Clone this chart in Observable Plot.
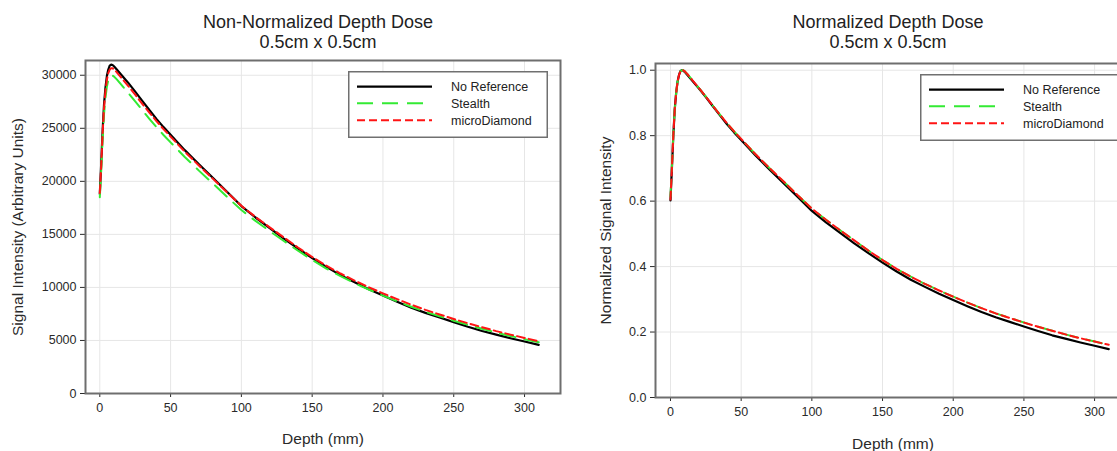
<!DOCTYPE html>
<html>
<head>
<meta charset="utf-8">
<script src="https://cdn.jsdelivr.net/npm/d3@7"></script>
<script src="https://cdn.jsdelivr.net/npm/@observablehq/plot@0.6"></script>
<style>
  html, body { margin: 0; padding: 0; background: #fff; overflow: hidden; width: 1117px; height: 451px; }
  body { position: relative; font-family: "Liberation Sans", Arial, sans-serif; color: #222; }
  .chart { position: absolute; top: 0; }
  .title { font-size: 18px; line-height: 20px; text-align: center; padding-top: 12px; height: 40px; color: #222; }
  .chart svg g[aria-label$="axis label"] text { font-size: 15.5px; }
  .legend { position: absolute; }
</style>
</head>
<body>
<div id="left" class="chart" style="left:0px;width:562px;"></div>
<div id="right" class="chart" style="left:562px;width:570px;"></div>
<script>
// ---------- data ----------
const depth = [0,1,2,3,4,5,6,7,8,9,10,12,15,20,25,30,35,40,45,50,60,70,80,90,100,110,120,130,140,150,160,170,180,190,200,210,220,230,240,250,260,270,280,290,300,310];

// Non-normalized signal (arbitrary units)
const noRefRaw = [18800,21700,24800,27280,28830,29920,30540,30910,31000,30970,30850,30540,30070,29300,28460,27590,26720,25890,25110,24400,22940,21610,20310,19000,17670,16590,15590,14600,13670,12770,11940,11160,10480,9830,9240,8650,8090,7600,7160,6730,6290,5890,5550,5210,4900,4590];
const stealthRaw = [18500,21000,23980,26370,27870,28920,29520,29850,29970,29970,29880,29610,29130,28350,27540,26700,25890,25110,24370,23670,22300,21010,19780,18520,17290,16270,15310,14380,13460,12590,11780,11060,10400,9800,9230,8690,8180,7700,7280,6860,6470,6110,5750,5420,5120,4830];
const microRaw = [18900,21460,24520,26970,28500,29580,30190,30530,30650,30650,30560,30280,29790,29000,28170,27310,26480,25680,24920,24210,22800,21490,20230,18940,17690,16640,15660,14710,13760,12870,12050,11310,10640,10020,9440,8890,8370,7880,7450,7020,6620,6250,5880,5550,5240,4930];

// Normalized signal
const noRefNorm = [0.602,0.70,0.80,0.88,0.93,0.965,0.985,0.997,1.0,0.999,0.995,0.985,0.970,0.945,0.918,0.890,0.862,0.835,0.810,0.787,0.740,0.697,0.655,0.613,0.570,0.535,0.503,0.471,0.441,0.412,0.385,0.360,0.338,0.317,0.298,0.279,0.261,0.245,0.231,0.217,0.203,0.190,0.179,0.168,0.158,0.148];
const stealthNorm = [0.615,0.70,0.80,0.88,0.93,0.965,0.985,0.996,1.0,1.0,0.997,0.988,0.972,0.946,0.919,0.891,0.864,0.838,0.813,0.790,0.744,0.701,0.660,0.618,0.577,0.543,0.511,0.480,0.449,0.420,0.393,0.369,0.347,0.327,0.308,0.290,0.273,0.257,0.243,0.229,0.216,0.204,0.192,0.181,0.171,0.161];
const microNorm = [0.605,0.70,0.80,0.88,0.93,0.965,0.985,0.996,1.0,1.0,0.997,0.988,0.972,0.946,0.919,0.891,0.864,0.838,0.813,0.790,0.744,0.701,0.660,0.618,0.577,0.543,0.511,0.480,0.449,0.420,0.393,0.369,0.347,0.327,0.308,0.290,0.273,0.257,0.243,0.229,0.216,0.204,0.192,0.181,0.171,0.161];

const seriesNames = ["No Reference", "Stealth", "microDiamond"];
const seriesColors = ["#000000", "#33ea33", "#ff1414"];
const seriesDash = [null, "16,9", "8,4"];
const seriesWidth = [2.2, 2, 2];

const xTicks = [0, 50, 100, 150, 200, 250, 300];
const yTicksRaw = [0, 5000, 10000, 15000, 20000, 25000, 30000];
const yTicksNorm = [0, 0.2, 0.4, 0.6, 0.8, 1.0];

const leftTitle = ["Non-Normalized Depth Dose", "0.5cm x 0.5cm"];
const rightTitle = ["Normalized Depth Dose", "0.5cm x 0.5cm"];

// ---------- helpers ----------
function rows(values, name) {
  return depth.map((d, i) => ({depth: d, value: values[i], series: name}));
}

function buildChart(el, cfg) {
  const title = document.createElement("div");
  title.className = "title";
  title.style.paddingLeft = cfg.marginLeft + "px";
  title.style.paddingRight = (cfg.marginRight + cfg.titleShift) + "px";
  title.innerHTML = cfg.title.join("<br>");
  el.appendChild(title);

  const lineMarks = cfg.series.map((vals, i) =>
    Plot.line(rows(vals, seriesNames[i]), {
      x: "depth", y: "value",
      stroke: seriesColors[i],
      strokeWidth: seriesWidth[i],
      strokeDasharray: seriesDash[i] || undefined,
      curve: "linear"
    })
  );

  const svg = Plot.plot({
    width: cfg.width,
    height: 399,
    marginLeft: cfg.marginLeft,
    marginRight: cfg.marginRight,
    marginTop: cfg.marginTop,
    marginBottom: cfg.marginBottom,
    style: {fontFamily: "'Liberation Sans', Arial, sans-serif", fontSize: "12.5px", color: "#2a2a2a", background: "transparent", overflow: "visible"},
    x: {domain: cfg.xDomain, ticks: xTicks, tickSize: 4, tickPadding: 6, label: "Depth (mm)", labelAnchor: "center", labelOffset: cfg.xLabelOffset, labelArrow: false},
    y: {domain: cfg.yDomain, ticks: cfg.yTicks, tickSize: 5, tickPadding: 4, tickFormat: cfg.yFormat, label: cfg.yLabel, labelAnchor: "center", labelOffset: cfg.yLabelOffset, labelArrow: false},
    marks: [
      Plot.ruleX(xTicks, {stroke: "#e6e6e6", strokeWidth: 1}),
      Plot.ruleY(cfg.yTicks, {stroke: "#e6e6e6", strokeWidth: 1}),
      ...lineMarks,
      Plot.frame({stroke: "#6e6e6e", strokeWidth: 2})
    ]
  });
  el.appendChild(svg);
}

function buildLegend(left, top, width, height) {
  const ns = "http://www.w3.org/2000/svg";
  const svg = document.createElementNS(ns, "svg");
  svg.setAttribute("class", "legend");
  svg.setAttribute("width", width);
  svg.setAttribute("height", height);
  svg.style.left = left + "px";
  svg.style.top = top + "px";
  const box = document.createElementNS(ns, "rect");
  box.setAttribute("x", 0.75); box.setAttribute("y", 0.75);
  box.setAttribute("width", width - 1.5); box.setAttribute("height", height - 1.5);
  box.setAttribute("fill", "#fff"); box.setAttribute("stroke", "#707070"); box.setAttribute("stroke-width", 1.5);
  svg.appendChild(box);
  const ys = [15.7, 32.3, 49.3];
  seriesNames.forEach((name, i) => {
    const ln = document.createElementNS(ns, "line");
    ln.setAttribute("x1", 9); ln.setAttribute("x2", 84);
    ln.setAttribute("y1", ys[i]); ln.setAttribute("y2", ys[i]);
    ln.setAttribute("stroke", seriesColors[i]);
    ln.setAttribute("stroke-width", seriesWidth[i]);
    if (seriesDash[i]) ln.setAttribute("stroke-dasharray", seriesDash[i]);
    svg.appendChild(ln);
    const t = document.createElementNS(ns, "text");
    t.setAttribute("x", 103); t.setAttribute("y", ys[i]);
    t.setAttribute("dy", "0.35em");
    t.setAttribute("font-size", "12.5px");
    t.setAttribute("font-family", "'Liberation Sans', Arial, sans-serif");
    t.setAttribute("fill", "#222");
    t.textContent = name;
    svg.appendChild(t);
  });
  document.body.appendChild(svg);
}

// ---------- charts ----------
buildChart(document.getElementById("left"), {
  width: 562, marginLeft: 85, marginRight: 2, marginTop: 8, marginBottom: 58, titleShift: 9,
  xDomain: [-10.1, 325.4], yDomain: [0, 31390], yTicks: yTicksRaw, yFormat: d3.format("d"),
  yLabel: "Signal Intensity (Arbitrary Units)", yLabelOffset: 74, xLabelOffset: 50,
  title: leftTitle,
  series: [noRefRaw, stealthRaw, microRaw]
});

buildChart(document.getElementById("right"), {
  width: 570, marginLeft: 93, marginRight: 2, marginTop: 11, marginBottom: 54, titleShift: 9,
  xDomain: [-10.6, 325.4], yDomain: [0, 1.0205], yTicks: yTicksNorm, yFormat: d3.format(".1f"),
  yLabel: "Normalized Signal Intensity", yLabelOffset: 56, xLabelOffset: 51,
  title: rightTitle,
  series: [noRefNorm, stealthNorm, microNorm]
});

buildLegend(348, 71, 200, 67);
buildLegend(919.5, 74, 200, 67);
</script>
</body>
</html>
